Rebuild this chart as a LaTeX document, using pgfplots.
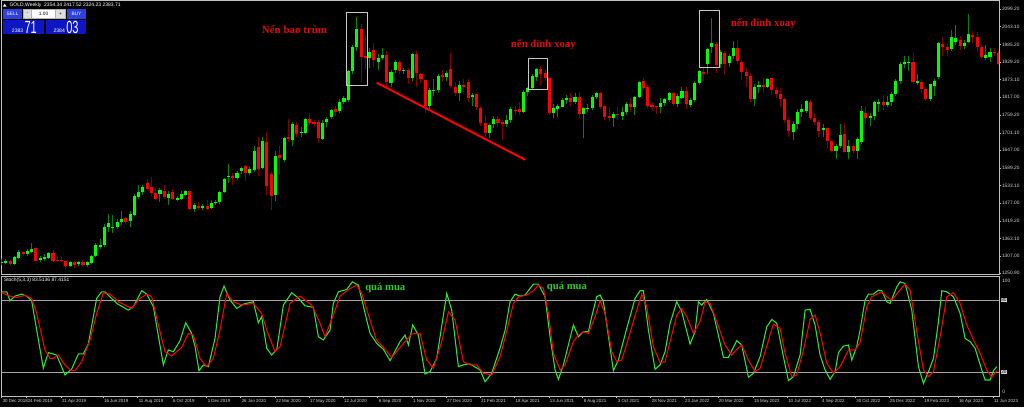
\documentclass[border=0pt]{standalone}
\usepackage{fontspec}
\setmainfont{Liberation Sans}
\newfontfamily\annfont{Liberation Serif}
\usepackage{graphicx}
\usepackage{pgfplots}
\usepackage{pgfplotstable}
\pgfplotsset{compat=1.18}
\definecolor{frame}{RGB}{192,192,192}
\definecolor{lvl}{RGB}{165,165,165}
\definecolor{lab}{RGB}{215,215,215}
\definecolor{upb}{RGB}{0,255,0}
\definecolor{upw}{RGB}{0,135,0}
\definecolor{dnb}{RGB}{255,0,0}
\definecolor{dnw}{RGB}{135,0,0}
\definecolor{kcol}{RGB}{40,235,40}
\definecolor{dcol}{RGB}{255,0,0}
\definecolor{annr}{RGB}{225,10,10}
\definecolor{anng}{RGB}{40,205,40}
\definecolor{btn}{RGB}{45,65,225}
\definecolor{btnd}{RGB}{12,22,195}
\definecolor{boxc}{RGB}{200,200,200}

\pgfplotstableread{
w O H L C
2 1283 1296 1278 1288
3 1283 1296 1281 1289
5 1281 1306 1278 1304
6 1301 1325 1298 1320
8 1314 1328 1308 1323
9 1320 1347 1316 1330
11 1294 1305 1288 1301
12 1296 1312 1291 1304
13 1300 1320 1298 1315
18 1275 1290 1270 1287
20 1281 1292 1276 1288
22 1277 1290 1272 1287
23 1284 1309 1280 1306
24 1306 1347 1303 1342
25 1337 1360 1330 1342
26 1341 1410 1336 1400
27 1399 1440 1385 1412
28 1395 1438 1382 1400
29 1399 1425 1392 1417
30 1415 1452 1405 1426
32 1419 1452 1400 1442
33 1438 1505 1436 1499
34 1496 1535 1490 1513
35 1512 1535 1504 1529
39 1506 1524 1481 1518
41 1494 1516 1470 1506
43 1487 1500 1482 1492
44 1491 1515 1485 1506
45 1504 1520 1500 1516
47 1459 1478 1447 1469
49 1462 1475 1453 1467
51 1460 1487 1458 1478
52 1476 1486 1471 1481
53 1479 1516 1475 1513
54 1512 1558 1508 1554
55 1562 1601 1540 1565
57 1558 1580 1550 1574
58 1581 1591 1570 1589
60 1572 1592 1567 1586
61 1583 1660 1578 1644
63 1590 1690 1585 1676
66 1502 1645 1483 1628
68 1615 1690 1610 1685
70 1679 1738 1660 1732
72 1701 1720 1690 1705
73 1701 1750 1698 1747
77 1683 1745 1680 1733
78 1736 1752 1720 1747
79 1753 1780 1748 1775
81 1772 1810 1765 1802
82 1800 1820 1795 1813
83 1808 1905 1800 1901
84 1902 1985 1890 1979
85 1978 2076 1965 2036
88 1942 1976 1910 1963
90 1931 1955 1905 1944
91 1944 1976 1935 1952
93 1861 1905 1850 1899
94 1904 1935 1895 1931
96 1902 1912 1890 1905
98 1877 1960 1870 1955
102 1790 1845 1775 1839
103 1837 1875 1820 1840
104 1840 1890 1830 1885
106 1883 1900 1870 1896
109 1829 1868 1805 1856
112 1816 1830 1790 1824
116 1703 1735 1685 1727
117 1730 1755 1718 1747
120 1730 1758 1720 1745
121 1744 1785 1735 1779
124 1768 1840 1765 1832
125 1832 1850 1820 1845
126 1845 1890 1840 1885
127 1883 1912 1870 1906
131 1765 1795 1750 1783
132 1779 1795 1754 1790
133 1786 1815 1785 1808
134 1809 1825 1795 1813
136 1800 1830 1795 1817
138 1764 1785 1685 1781
139 1780 1795 1770 1783
140 1781 1825 1775 1818
141 1818 1835 1810 1831
145 1751 1770 1722 1764
147 1757 1785 1745 1770
148 1768 1800 1760 1794
150 1786 1822 1760 1818
151 1818 1870 1815 1867
156 1784 1815 1765 1799
157 1797 1815 1790 1810
158 1808 1832 1800 1829
160 1796 1828 1785 1822
161 1815 1848 1810 1837
163 1792 1815 1785 1808
164 1808 1868 1800 1862
165 1862 1905 1855 1901
167 1922 1975 1890 1973
168 1979 2072 1960 1990
170 1922 1970 1910 1963
172 1926 1955 1915 1949
173 1949 1998 1940 1976
178 1810 1858 1787 1851
179 1850 1870 1830 1856
181 1851 1880 1845 1875
187 1706 1740 1680 1730
188 1730 1780 1715 1768
189 1768 1795 1754 1779
190 1772 1808 1765 1805
194 1711 1730 1690 1719
197 1644 1665 1617 1661
198 1661 1730 1655 1695
200 1642 1680 1617 1661
202 1644 1690 1617 1682
203 1674 1790 1665 1773
205 1751 1765 1725 1757
206 1757 1805 1745 1800
207 1794 1810 1770 1802
209 1792 1822 1785 1802
210 1800 1835 1790 1826
211 1828 1875 1820 1869
212 1869 1930 1860 1923
213 1922 1950 1910 1929
214 1927 1950 1900 1930
216 1864 1890 1855 1870
219 1811 1860 1805 1858
220 1854 1875 1820 1870
221 1882 1995 1875 1992
224 1972 2032 1965 2009
225 1993 2050 1985 2008
227 1982 2000 1972 1992
228 1993 2083 1990 2020
232 1944 1985 1935 1952
233 1947 1975 1930 1963
}\upT

\pgfplotstableread{
w O H L C
4 1289 1295 1279 1282
7 1318 1322 1306 1313
10 1331 1335 1290 1292
14 1315 1325 1288 1292
15 1295 1305 1288 1292
16 1294 1303 1287 1291
17 1292 1294 1266 1275
19 1287 1292 1268 1278
21 1287 1295 1273 1277
31 1428 1432 1410 1417
36 1540 1555 1515 1521
37 1527 1560 1500 1508
38 1509 1525 1485 1489
40 1515 1535 1490 1497
42 1513 1522 1485 1489
46 1515 1517 1455 1459
48 1467 1479 1455 1461
50 1467 1485 1455 1459
56 1565 1573 1536 1556
59 1595 1600 1548 1572
62 1656 1690 1563 1587
64 1674 1704 1504 1530
65 1570 1575 1454 1500
67 1630 1660 1568 1620
69 1689 1748 1674 1682
71 1727 1738 1690 1697
74 1747 1765 1728 1733
75 1736 1745 1720 1730
76 1738 1745 1670 1685
80 1778 1790 1755 1770
86 2036 2051 1865 1947
87 1950 2017 1907 1942
89 1968 1992 1915 1936
92 1952 1965 1850 1865
95 1931 1935 1890 1902
97 1904 1910 1860 1880
99 1955 1965 1850 1893
100 1891 1895 1862 1875
101 1872 1875 1765 1790
105 1888 1905 1870 1881
107 1906 1960 1845 1852
108 1851 1865 1820 1829
110 1856 1875 1835 1848
111 1865 1875 1800 1815
113 1826 1830 1775 1786
114 1782 1790 1725 1735
115 1733 1760 1690 1701
118 1747 1755 1722 1733
119 1736 1745 1680 1732
122 1776 1790 1760 1772
123 1778 1800 1760 1768
128 1906 1917 1856 1891
129 1893 1903 1868 1880
130 1877 1880 1760 1765
135 1813 1830 1790 1800
137 1816 1832 1750 1762
142 1831 1835 1780 1786
143 1788 1792 1745 1754
144 1756 1785 1740 1751
146 1764 1785 1745 1760
149 1796 1815 1770 1786
152 1869 1878 1840 1847
153 1850 1855 1782 1790
154 1792 1800 1772 1786
155 1789 1790 1762 1785
159 1831 1832 1790 1795
162 1837 1850 1780 1794
166 1899 1915 1870 1892
169 1987 1995 1895 1920
171 1960 1965 1890 1922
174 1976 2000 1925 1933
175 1931 1935 1872 1899
176 1899 1910 1850 1885
177 1886 1895 1800 1811
180 1856 1877 1830 1848
182 1877 1880 1825 1840
183 1840 1848 1815 1826
184 1828 1845 1785 1810
185 1811 1815 1735 1743
186 1743 1752 1690 1708
191 1802 1808 1745 1749
192 1749 1765 1727 1738
193 1738 1745 1690 1708
195 1719 1722 1655 1676
196 1676 1680 1640 1644
199 1699 1735 1640 1642
201 1661 1670 1635 1644
204 1767 1788 1730 1751
208 1800 1825 1775 1792
215 1929 1960 1860 1865
217 1867 1875 1830 1843
218 1843 1848 1805 1811
222 1987 2010 1950 1979
223 1979 1990 1950 1968
226 2000 2015 1970 1982
229 2017 2030 1990 2009
230 2009 2025 1965 1979
231 1979 1985 1940 1946
234 1961 1975 1950 1958
235 1960 1965 1920 1922
}\dnT

\pgfplotstableread{
w v
2.0 87.2
3.2 87.2
3.94 79.7
5.11 83.6
6.67 85.3
7.84 83.6
9.01 79.7
11.73 23.2
12.9 36.3
14.85 34.3
16.8 17.6
18.36 22.6
19.92 35.2
21.08 35.2
22.25 43.5
24.2 81.7
25.37 87.2
26.15 87.2
28.88 77.5
31.6 71.9
32.77 74.7
34.72 88.1
35.89 85.3
37.45 74.7
39.79 26.0
40.95 38.5
42.12 37.1
43.68 46.3
45.0 61.3
46.41 52.4
47.19 41.3
48.12 21.2
49.14 26.0
50.3 24.6
51.86 48.2
53.03 83.1
53.97 92.0
55.37 80.3
56.93 73.3
58.49 76.9
60.82 78.9
61.99 61.3
62.77 66.4
63.94 39.9
65.11 34.3
66.28 38.5
67.84 76.1
69.78 86.4
71.19 82.5
72.9 75.5
74.85 74.2
76.02 49.6
77.19 46.9
78.74 55.2
79.52 77.5
80.69 87.2
82.64 89.2
83.96 95.6
85.37 92.8
87.32 63.6
88.1 52.4
89.65 44.1
91.21 39.1
92.77 29.6
95.11 45.5
96.28 51.0
97.06 42.7
98.07 59.4
99.39 51.0
100.95 18.4
102.12 20.4
103.68 31.5
106.02 85.8
107.18 71.9
108.74 24.6
110.3 26.5
111.47 26.8
113.81 21.8
114.98 12.0
116.53 19.0
118.48 40.0
119.65 55.0
120.82 78.9
121.99 85.3
123.16 83.6
124.32 84.5
126.27 93.6
127.44 93.6
129.0 83.1
130.17 49.6
131.34 21.8
132.12 14.0
133.28 26.0
135.62 59.4
136.79 49.6
137.96 53.8
139.13 53.8
139.91 66.4
141.08 83.1
141.86 84.5
142.64 78.9
144.97 21.2
146.14 30.1
148.09 56.6
150.04 81.7
151.21 88.1
151.99 88.1
153.15 55.2
154.71 22.3
155.88 26.0
157.05 37.1
158.22 60.8
159.78 78.9
160.95 70.5
162.89 43.5
164.06 53.8
164.84 78.9
165.62 76.1
166.79 80.8
168.35 69.1
170.69 32.4
171.86 32.4
173.8 46.3
174.97 42.7
176.53 15.7
177.7 19.0
179.26 32.9
180.82 58.0
181.99 64.1
183.15 60.8
184.71 32.9
185.88 12.9
187.05 16.2
188.61 34.3
189.78 71.9
190.95 72.5
192.11 59.4
193.28 34.3
194.45 21.8
195.62 14.0
196.79 20.4
197.57 36.3
198.74 41.8
199.91 42.7
200.69 30.1
201.85 41.3
202.63 55.2
203.8 80.3
204.58 85.3
205.75 85.3
206.92 88.6
207.7 88.1
208.87 78.9
209.65 77.5
211.21 91.4
211.98 95.6
213.15 94.2
214.71 71.9
216.27 24.6
217.44 10.6
218.61 20.4
219.78 31.5
220.94 62.2
221.72 88.1
222.89 87.2
224.45 83.1
226.01 69.1
227.18 48.2
228.35 45.5
229.52 39.9
231.07 21.8
231.85 13.4
233.02 13.4
233.8 21.2
234.58 24.6
}\kT

\pgfplotstableread{
w v
2.0 86.4
3.94 83.6
5.5 82.5
7.45 84.2
9.01 81.7
10.18 69.1
12.12 38.5
13.29 31.5
14.07 31.5
15.24 34.3
16.8 26.0
17.97 21.8
19.14 21.2
20.69 28.7
22.64 46.9
24.2 69.1
25.76 86.4
27.32 85.3
29.27 78.9
32.38 73.3
34.33 81.7
35.89 85.3
37.06 83.1
38.62 59.4
40.17 37.1
41.73 33.5
44.07 40.7
45.63 52.4
46.8 51.0
48.36 31.5
49.91 24.6
51.47 31.5
53.03 55.2
54.59 85.8
56.15 78.9
58.1 76.1
60.82 77.5
62.77 69.1
63.94 55.2
65.89 37.1
67.06 41.3
69.4 77.5
71.73 83.6
74.46 76.1
76.41 60.8
77.57 49.6
79.52 67.8
81.08 83.6
83.42 90.0
84.98 92.8
86.15 85.8
88.1 63.6
89.65 46.3
91.21 40.7
93.16 32.4
96.28 45.5
97.84 51.9
99.78 52.4
101.34 30.1
102.9 23.2
104.85 45.5
106.41 70.5
107.96 63.6
109.91 28.7
111.47 26.0
113.03 26.0
114.59 19.0
116.53 17.6
118.48 32.9
120.0 53.8
121.6 77.5
122.8 83.1
124.71 84.5
126.27 88.1
127.44 92.8
128.61 90.0
129.78 69.1
130.95 35.7
132.51 21.8
133.67 26.0
135.62 45.5
136.79 51.0
137.96 53.8
139.13 52.4
140.69 66.4
141.86 79.7
143.02 69.1
144.58 37.1
145.75 28.7
146.92 30.1
148.48 48.2
150.43 71.9
151.6 85.3
152.76 74.7
154.32 41.3
155.88 27.9
157.05 28.7
158.22 45.5
159.78 67.8
160.95 73.3
162.12 66.4
163.67 52.4
165.23 62.2
166.4 78.9
167.57 77.5
169.13 62.2
171.08 42.7
172.63 34.3
173.8 39.1
174.97 42.7
176.53 30.1
178.09 20.4
179.26 23.2
180.82 41.8
182.37 60.2
183.93 56.6
185.1 35.7
186.66 16.2
187.83 17.6
189.39 38.5
190.95 64.1
192.11 67.8
193.28 53.0
194.84 27.3
196.4 19.0
197.96 24.6
199.91 38.5
201.46 38.5
202.63 44.6
204.19 74.7
205.36 83.1
206.92 85.8
207.7 87.2
208.87 83.1
210.04 80.3
211.59 87.2
213.15 93.6
214.32 88.6
215.88 53.8
217.44 21.8
218.61 16.2
219.78 20.4
221.33 49.6
222.89 83.1
224.45 86.4
226.01 77.5
227.57 59.4
229.13 46.9
230.68 35.7
232.24 21.8
233.41 15.7
234.58 21.2
}\dT

\newcommand{\tf}{\fontsize{3.6}{4.3}\selectfont}
\newcommand{\df}{\fontsize{3.3}{4.0}\selectfont}

\begin{document}
\begin{tikzpicture}
\fill[black] (0,0) rectangle (768pt,305.25pt);

\begin{axis}[
  at={(0.75pt,99pt)}, anchor=south west, scale only axis,
  width=748.5pt, height=205.5pt,
  xmin=1.84, xmax=235.1, ymin=1245.5, ymax=2125.9,
  axis line style={draw=frame, line width=0.75pt},
  xtick=\empty,
  ytick={2099.2,2043.1,1985.2,1929.2,1873.1,1817.0,1759.2,1701.1,1647.0,1589.2,1533.1,1477.0,1419.2,1363.1,1307.0,1250.9},
  yticklabels={2099.20,2043.10,1985.20,1929.20,1873.10,1817.00,1759.20,1701.10,1647.00,1589.20,1533.10,1477.00,1419.20,1363.10,1307.00,1250.90},
  ytick pos=right, yticklabel pos=right, tick align=outside,
  major tick length=1.5pt,
  tick style={draw=frame, line width=0.5pt},
  yticklabel style={font=\tf, text=lab, inner sep=0.6pt},
]
\addplot[draw=none, mark=none, forget plot, error bars/.cd, y dir=plus, y explicit, error mark=none,
  error bar style={draw=upw, line width=0.75pt, solid}]
  table[x=w, y=L, y error plus expr=\thisrow{H}-\thisrow{L}] {\upT};
\addplot[draw=none, mark=none, forget plot, error bars/.cd, y dir=plus, y explicit, error mark=none,
  error bar style={draw=dnw, line width=0.75pt, solid}]
  table[x=w, y=L, y error plus expr=\thisrow{H}-\thisrow{L}] {\dnT};
\addplot[draw=none, mark=none, forget plot, error bars/.cd, y dir=plus, y explicit, error mark=none,
  error bar style={draw=upb, line width=2.3pt, solid}]
  table[x=w, y=O, y error plus expr=\thisrow{C}-\thisrow{O}] {\upT};
\addplot[draw=none, mark=none, forget plot, error bars/.cd, y dir=plus, y explicit, error mark=none,
  error bar style={draw=dnb, line width=2.3pt, solid}]
  table[x=w, y=C, y error plus expr=\thisrow{O}-\thisrow{C}] {\dnT};
% trend line
\addplot[dnb, line width=1.5pt] coordinates {(89.66,1863.4) (124.33,1615.9)};
\end{axis}

\begin{axis}[
  at={(0.75pt,8.25pt)}, anchor=south west, scale only axis,
  width=748.5pt, height=89.6pt,
  xmin=1.84, xmax=235.1, ymin=0, ymax=100,
  axis line style={draw=frame, line width=0.75pt},
  ytick=\empty,
  xtick={2.0,7.85,15.86,25.68,33.79,41.81,49.92,57.87,65.89,73.83,81.78,89.89,97.91,105.86,113.8,121.87,129.9,137.8,145.76,153.7,161.5,169.4,177.6,185.6,193.5,201.5,209.4,217.4,225.5,233.7},
  xticklabels={30 Dec 2018,24 Feb 2019,21 Apr 2019,16 Jun 2019,11 Aug 2019,6 Oct 2019,1 Dec 2019,26 Jan 2020,22 Mar 2020,17 May 2020,12 Jul 2020,6 Sep 2020,1 Nov 2020,27 Dec 2020,21 Feb 2021,18 Apr 2021,13 Jun 2021,8 Aug 2021,3 Oct 2021,28 Nov 2021,23 Jan 2022,20 Mar 2022,15 May 2022,10 Jul 2022,4 Sep 2022,30 Oct 2022,25 Dec 2022,19 Feb 2023,16 Apr 2023,11 Jun 2023},
  xtick pos=bottom, tick align=outside, major tick length=1.5pt,
  tick style={draw=frame, line width=0.5pt},
  xticklabel style={anchor=north west, font=\df, text=lab, inner sep=0.6pt},
]
\addplot[lvl, line width=0.75pt, forget plot] coordinates {(1.84,80) (235.1,80)};
\addplot[lvl, line width=0.75pt, forget plot] coordinates {(1.84,20) (235.1,20)};
\addplot[kcol, line width=0.8pt] table[x=w, y=v] {\kT};
\addplot[dcol, line width=0.8pt] table[x=w, y=v] {\dT};
\end{axis}

\begin{scope}[shift={(0pt,305.25pt)}, x=0.75pt, y=-0.75pt]
% header
\fill[white] (2.7,6.7) -- (6.7,6.7) -- (4.7,4) -- cycle;
\node[anchor=west, inner sep=0, text=white, font=\fontsize{3.75}{4.5}\selectfont] at (9.3,5.7) {GOLD,Weekly\ \ 2354.34 2417.52 2324.23 2383.71};
% trade panel
\fill[btn] (3.3,9.5) rectangle (22,19);
\node[text=white, inner sep=0, font=\fontsize{3.6}{4}\selectfont] at (12.6,14.2) {SELL};
\fill[gray!60] (23,9.5) rectangle (66,19);
\fill[gray!25] (24,10.3) rectangle (31,18.2);
\node[text=black, inner sep=0, font=\fontsize{3.6}{4}\selectfont] at (27.5,14.2) {-};
\fill[white] (32,10.3) rectangle (55,18.2);
\node[text=black, inner sep=0, font=\fontsize{3.6}{4}\selectfont] at (43.5,14.2) {1.00};
\fill[gray!25] (56,10.3) rectangle (65,18.2);
\node[text=black, inner sep=0, font=\fontsize{3.6}{4}\selectfont] at (60.5,14.2) {+};
\fill[btn] (67,9.5) rectangle (86,19);
\node[text=white, inner sep=0, font=\fontsize{3.6}{4}\selectfont] at (76.5,14.2) {BUY};
\fill[btnd] (3.3,19.8) rectangle (44,34.3);
\fill[btnd] (45.7,19.8) rectangle (86,34.3);
\node[anchor=base west, text=white, inner sep=0, font=\fontsize{3.8}{4}\selectfont] at (11.7,32.8) {2383};
\node[anchor=base west, text=white, inner sep=0] at (24.3,33.2) {\scalebox{0.63}[1]{\fontsize{13.2}{14}\selectfont 71}};
\node[anchor=base west, text=white, inner sep=0, font=\fontsize{3.8}{4}\selectfont] at (53.3,32.8) {2384};
\node[anchor=base west, text=white, inner sep=0] at (66,33.2) {\scalebox{0.63}[1]{\fontsize{13.2}{14}\selectfont 03}};
% stoch title and levels
\node[anchor=west, inner sep=0, text=white, font=\fontsize{3.7}{4.4}\selectfont] at (3.8,280.7) {Stoch(5,3,3) 83.5136 87.4151};
\node[anchor=west, inner sep=0, text=lab, font=\tf] at (1002,280.5) {100};
\node[anchor=west, inner sep=0.4pt, fill=lab, text=black, font=\tf] at (1000.5,300.2) {80};
\node[anchor=west, inner sep=0.4pt, fill=lab, text=black, font=\tf] at (1000.5,372.1) {20};
\node[anchor=west, inner sep=0, text=lab, font=\tf] at (1002,392) {0};
% boxes
\draw[boxc, line width=0.75pt] (346.3,12.7) rectangle (367.7,85.7);
\draw[boxc, line width=0.75pt] (528.3,58.3) rectangle (547.3,89.3);
\draw[boxc, line width=0.75pt] (699.3,11) rectangle (719.3,67.7);
% annotations
\node[anchor=west, inner sep=0, text=annr, font=\annfont\bfseries\fontsize{8.2}{9}\selectfont] at (261.7,29.8) {Nến bao trùm};
\node[anchor=west, inner sep=0, text=annr, font=\annfont\bfseries\fontsize{8.1}{9}\selectfont] at (510.7,45) {nến đỉnh xoay};
\node[anchor=west, inner sep=0, text=annr, font=\annfont\bfseries\fontsize{8.1}{9}\selectfont] at (730.7,23.3) {nến đỉnh xoay};
\node[anchor=west, inner sep=0, text=anng, font=\annfont\bfseries\fontsize{8}{9}\selectfont] at (365,287.7) {quá mua};
\node[anchor=west, inner sep=0, text=anng, font=\annfont\bfseries\fontsize{8}{9}\selectfont] at (546.7,286.7) {quá mua};
\end{scope}
\pgfresetboundingbox
\useasboundingbox (0,0) rectangle (768pt,305.25pt);
\end{tikzpicture}
\end{document}
